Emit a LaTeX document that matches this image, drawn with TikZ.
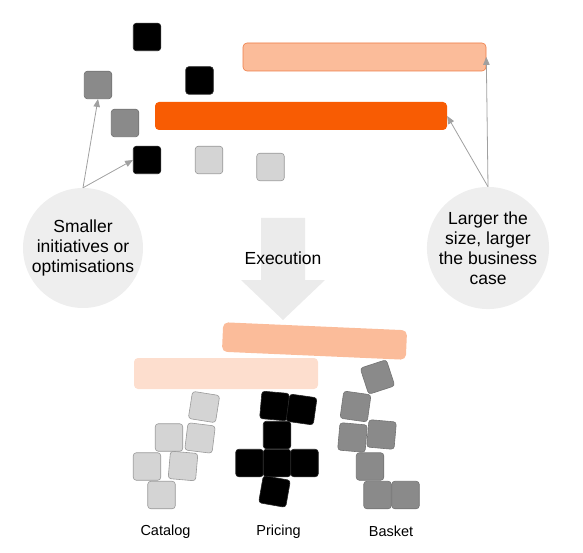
\documentclass[tikz,border=0pt]{standalone}
\usepackage{fontspec}
\setmainfont{Liberation Sans}
\usepackage{tikz}
\definecolor{barcolor}{RGB}{248,92,3}
\definecolor{lightbar}{RGB}{251,188,154}
\definecolor{lightbarline}{RGB}{238,125,70}
\definecolor{palebar}{RGB}{253,222,206}
\definecolor{midgray}{RGB}{138,138,138}
\definecolor{palegray}{RGB}{212,212,212}
\definecolor{bubblegray}{RGB}{238,238,238}
\definecolor{arrowgray}{RGB}{235,235,235}
\definecolor{linecolor}{RGB}{160,160,160}
\usetikzlibrary{arrows,shapes}
\tikzset{
	tile/.style={
		rectangle,
		rounded corners=3pt,
		minimum size=27.5pt,
		inner sep=0pt,
		line width=0.6pt
	},
	darktile/.style={
		tile,
		fill=black,
		draw=black!85
	},
	graytile/.style={
		tile,
		fill=midgray,
		draw=black!55
	},
	lighttile/.style={
		tile,
		fill=palegray,
		draw=black!40
	},
	bar/.style={
		rectangle,
		rounded corners=4pt,
		inner sep=0pt,
		minimum height=28pt
	},
	bubble/.style={
		circle,
		fill=bubblegray,
		minimum size=120pt,
		inner sep=0pt,
		align=center,
		font=\fontsize{17.5}{20}\selectfont
	},
	teamname/.style={
		anchor=base,
		font=\fontsize{14.5}{17}\selectfont
	},
	arrow/.style={
		draw=linecolor,
		line width=0.8pt,
		->,
		>=triangle 45
	},
}

\begin{document}
\begin{tikzpicture}[x=1pt,y=-1pt]
			\useasboundingbox (0,0) rectangle (583,553);
			% before: initiatives of every size
			\node[bar,fill=lightbar,draw=lightbarline,line width=0.6pt,minimum width=243pt] (bigbar) at (364.5,57) {};
			\node[bar,fill=barcolor,minimum width=292pt] (midbar) at (301,116) {};
			\node[darktile] (sq1) at (147,37) {};
			\node[graytile] (sq2) at (98,85) {};
			\node[darktile] (sq3) at (199.5,80.5) {};
			\node[graytile] (sq4) at (125,123) {};
			\node[darktile] (sq5) at (147,160) {};
			\node[lighttile] (sq6) at (209,160) {};
			\node[lighttile] (sq7) at (270.5,167) {};
			\node[bubble] (small) at (83,248) {Smaller\\initiatives or\\optimisations};
			\node[bubble] (large) at (488,248) {Larger the\\size, larger\\the business\\case};
			\path[arrow] (small.north) -- (sq2.south);
			\path[arrow] (small.north) -- (sq5.west);
			\path[arrow] (large.north) -- (bigbar.east);
			\path[arrow] (large.north) -- (midbar.east);
			% execution arrow
			\fill[arrowgray] (261,218) -- (305,218) -- (305,280) -- (325,280) -- (283,320)
				-- (241,280) -- (261,280) -- cycle;
			\node[anchor=base,font=\fontsize{17.5}{20}\selectfont] (exec) at (283,265) {Execution};
			% after: stacks per team
			\node[bar,fill=lightbar,minimum width=184pt,minimum height=29.5pt,rotate=-2.5,rounded corners=5pt] (tiltbar) at (314.5,341) {};
			\node[bar,fill=palebar,minimum width=184pt,minimum height=31pt] (palebar) at (226,373.5) {};
			\node[lighttile,rotate=-9] (cat1) at (204,407) {};
			\node[lighttile] (cat2) at (169,437.5) {};
			\node[lighttile,rotate=-7] (cat3) at (200,438) {};
			\node[lighttile] (cat4) at (147,466.5) {};
			\node[lighttile,rotate=-5] (cat5) at (183,466) {};
			\node[lighttile] (cat6) at (161.5,495) {};
			\node[darktile,rotate=-5] (pri1) at (274.5,406) {};
			\node[darktile,rotate=-8] (pri2) at (301.5,409.5) {};
			\node[darktile] (pri3) at (277,435) {};
			\node[darktile] (pri4) at (249.5,463) {};
			\node[darktile] (pri5) at (277,463) {};
			\node[darktile] (pri6) at (304.5,463) {};
			\node[darktile,rotate=-10] (pri7) at (274.5,491.5) {};
			\node[graytile,rotate=18] (bas1) at (377.5,377) {};
			\node[graytile,rotate=-8] (bas2) at (355.5,406.5) {};
			\node[graytile,rotate=-5] (bas3) at (352.5,437.5) {};
			\node[graytile,rotate=-5] (bas4) at (381.5,434.5) {};
			\node[graytile] (bas5) at (370,466.5) {};
			\node[graytile] (bas6) at (377.5,495) {};
			\node[graytile] (bas7) at (405.5,495) {};
			\node[teamname] (catalog) at (165.5,535) {Catalog};
			\node[teamname] (pricing) at (278.5,535) {Pricing};
			\node[teamname] (basket) at (391,536.5) {Basket};
			\end{tikzpicture}
\end{document}
